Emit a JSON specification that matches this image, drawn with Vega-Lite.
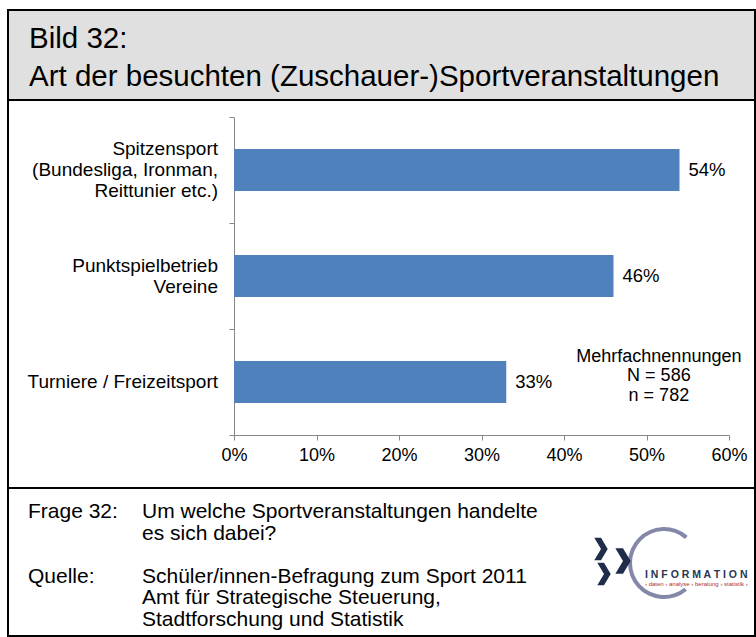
{
  "$schema": "https://vega.github.io/schema/vega-lite/v6.json",
  "background": "white",
  "padding": {"left": 7, "top": 9, "right": 0, "bottom": 0},
  "spacing": 0,
  "bounds": "flush",
  "config": {"font": "Liberation Sans", "view": {"stroke": null}},
  "vconcat": [
    {
      "width": 747,
      "height": 90,
      "view": {"fill": "#e0e0e0", "stroke": "black", "strokeWidth": 2},
      "data": {"values": [{}]},
      "mark": {"type": "text", "align": "left", "baseline": "alphabetic", "fontSize": 29.5, "lineHeight": 38, "color": "black",
        "text": ["Bild 32:", "Art der besuchten (Zuschauer-)Sportveranstaltungen"]},
      "encoding": {"x": {"value": 21}, "y": {"value": 38}}
    },
    {
      "width": 747,
      "height": 388,
      "view": {"fill": "white", "stroke": "black", "strokeWidth": 2},
      "data": {"values": [
        {"category": "Spitzensport", "label": ["Spitzensport\u00a0", "(Bundesliga, Ironman,", "Reittunier etc.)\u00a0"], "share": 0.54},
        {"category": "Punktspielbetrieb Vereine", "label": ["Punktspielbetrieb", "Vereine"], "share": 0.46},
        {"category": "Turniere / Freizeitsport", "label": ["Turniere / Freizeitsport"], "share": 0.33}
      ]},
      "layer": [
        {"mark": {"type": "bar", "size": 42, "color": "#4F81BD"},
          "encoding": {
            "y": {"field": "category", "type": "nominal", "sort": null,
              "scale": {"range": [17, 335], "paddingInner": 0, "paddingOuter": 0},
              "axis": {"title": null, "offset": -226, "tickBand": "extent", "tickSize": 5, "tickColor": "#868686",
                "domainColor": "#868686", "labels": false}},
            "x": {"field": "share", "type": "quantitative",
              "scale": {"domain": [0, 0.6], "range": [226, 721], "nice": false},
              "axis": {"title": null, "offset": -53, "format": ".0%", "values": [0, 0.1, 0.2, 0.3, 0.4, 0.5, 0.6],
                "grid": false, "tickSize": 5, "tickColor": "#868686", "domainColor": "#868686",
                "labelFontSize": 18, "labelColor": "black", "labelPadding": 6, "labelFlush": false}}
          }},
        {"mark": {"type": "text", "align": "left", "baseline": "middle", "dx": 9, "fontSize": 18.5, "color": "black"},
          "encoding": {
            "y": {"field": "category", "type": "nominal", "sort": null},
            "x": {"field": "share", "type": "quantitative"},
            "text": {"field": "share", "type": "quantitative", "format": ".0%"}}},
        {"transform": [{"filter": "datum.share === 0.54"}],
          "mark": {"type": "text", "align": "right", "baseline": "middle", "dx": -16, "dy": -21, "fontSize": 19, "lineHeight": 21, "color": "black"},
          "encoding": {
            "y": {"field": "category", "type": "nominal", "sort": null},
            "x": {"datum": 0, "type": "quantitative"},
            "text": {"field": "label", "type": "nominal"}}},
        {"transform": [{"filter": "datum.share === 0.46"}],
          "mark": {"type": "text", "align": "right", "baseline": "middle", "dx": -16, "dy": -10.5, "fontSize": 19, "lineHeight": 21, "color": "black"},
          "encoding": {
            "y": {"field": "category", "type": "nominal", "sort": null},
            "x": {"datum": 0, "type": "quantitative"},
            "text": {"field": "label", "type": "nominal"}}},
        {"transform": [{"filter": "datum.share === 0.33"}],
          "mark": {"type": "text", "align": "right", "baseline": "middle", "dx": -16, "fontSize": 19, "lineHeight": 21, "color": "black"},
          "encoding": {
            "y": {"field": "category", "type": "nominal", "sort": null},
            "x": {"datum": 0, "type": "quantitative"},
            "text": {"field": "label", "type": "nominal"}}},
        {"transform": [{"filter": "datum.share === 0.33"}],
          "mark": {"type": "text", "align": "center", "baseline": "middle", "fontSize": 18, "lineHeight": 19.5, "dy": -25.5, "color": "black"},
          "encoding": {
            "x": {"datum": 0.515, "type": "quantitative"},
            "y": {"datum": "Turniere / Freizeitsport", "type": "nominal"},
            "text": {"value": ["Mehrfachnennungen", "N = 586", "n = 782"]}}}
      ]
    },
    {
      "width": 747,
      "height": 148,
      "view": {"fill": "white", "stroke": "black", "strokeWidth": 2},
      "data": {"values": [{}]},
      "layer": [
        {"mark": {"type": "text", "align": "left", "baseline": "alphabetic", "fontSize": 21, "color": "black",
          "text": "Frage 32:"},
          "encoding": {"x": {"value": 20}, "y": {"value": 30}}},
        {"mark": {"type": "text", "align": "left", "baseline": "alphabetic", "fontSize": 21, "color": "black",
          "text": "Quelle:"},
          "encoding": {"x": {"value": 20}, "y": {"value": 94.5}}},
        {"mark": {"type": "text", "align": "left", "baseline": "alphabetic", "fontSize": 21, "lineHeight": 21.5, "color": "black",
          "text": ["Um welche Sportveranstaltungen handelte", "es sich dabei?"]},
          "encoding": {"x": {"value": 134}, "y": {"value": 30}}},
        {"mark": {"type": "text", "align": "left", "baseline": "alphabetic", "fontSize": 21, "lineHeight": 21.5, "color": "black",
          "text": ["Schüler/innen-Befragung zum Sport 2011", "Amt für Strategische Steuerung,", "Stadtforschung und Statistik"]},
          "encoding": {"x": {"value": 134}, "y": {"value": 94.5}}},
        {"mark": {"type": "arc", "innerRadius": 32, "outerRadius": 36, "theta": 2.45, "theta2": 7.0, "color": "#6f7399", "opacity": 0.85},
          "encoding": {"x": {"value": 656}, "y": {"value": 75}}},
        {"mark": {"type": "point", "shape": "M-0.6,-1L0,-1L0.6,0L0,1L-0.6,1L0,0Z", "size": 500, "filled": true, "color": "#1f2d4a", "opacity": 1},
          "encoding": {"x": {"value": 593}, "y": {"value": 61}}},
        {"mark": {"type": "point", "shape": "M-0.6,-1L0,-1L0.6,0L0,1L-0.6,1L0,0Z", "size": 650, "filled": true, "color": "#1f2d4a", "opacity": 1},
          "encoding": {"x": {"value": 615}, "y": {"value": 73}}},
        {"mark": {"type": "point", "shape": "M-0.6,-1L0,-1L0.6,0L0,1L-0.6,1L0,0Z", "size": 500, "filled": true, "color": "#1f2d4a", "opacity": 1},
          "encoding": {"x": {"value": 596}, "y": {"value": 86}}},
        {"mark": {"type": "text", "align": "left", "baseline": "alphabetic", "fontSize": 10.5, "fontWeight": "bold", "color": "#2a3550", "clip": true,
          "text": "I N F O R M A T I O N"},
          "encoding": {"x": {"value": 637}, "y": {"value": 90}}},
        {"mark": {"type": "text", "align": "left", "baseline": "alphabetic", "fontSize": 6, "color": "#b03030", "clip": true,
          "text": "› daten › analyse › beratung › statistik ›"},
          "encoding": {"x": {"value": 637}, "y": {"value": 98}}}
      ]
    }
  ]
}
